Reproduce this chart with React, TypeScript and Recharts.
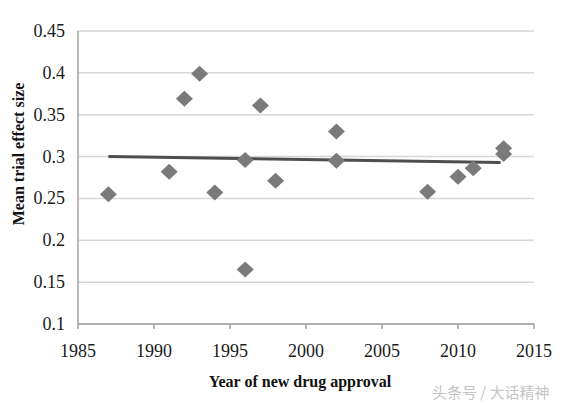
import { ScatterChart, Scatter, XAxis, YAxis, CartesianGrid } from 'recharts';

const years = [1987, 1991, 1992, 1993, 1994, 1996, 1996, 1997, 1998, 2002, 2002, 2008, 2010, 2011, 2013, 2013];
const effectSizes = [0.255, 0.282, 0.369, 0.399, 0.257, 0.296, 0.165, 0.361, 0.271, 0.33, 0.295, 0.258, 0.276, 0.286, 0.31, 0.303];

const trendYears = [1987, 2012.8];
const trendValues = [0.3, 0.293];

const xTicks = [1985, 1990, 1995, 2000, 2005, 2010, 2015];
const yTicks = [0.1, 0.15, 0.2, 0.25, 0.3, 0.35, 0.4, 0.45];

const points = years.map((year, i) => ({ year, value: effectSizes[i] }));
const trend = trendYears.map((year, i) => ({ year, value: trendValues[i] }));

const serif = '"Liberation Serif", "Times New Roman", serif';

const Diamond = (props: any) => {
    const { cx, cy } = props;
    const w = 8.5;
    const h = 8;
    return (
        <polygon
            points={`${cx},${cy - h} ${cx + w},${cy} ${cx},${cy + h} ${cx - w},${cy}`}
            fill="#7a7a7a"
        />
    );
};

const XTick = (props: any) => {
    const { x, y, payload } = props;
    return (
        <text x={x} y={y + 20} textAnchor="middle" fontFamily={serif} fontSize={18} fill="#1a1a1a">
            {payload.value}
        </text>
    );
};

const YTick = (props: any) => {
    const { x, y, payload } = props;
    return (
        <text x={x} y={y + 6} textAnchor="end" fontFamily={serif} fontSize={18} fill="#1a1a1a">
            {payload.value}
        </text>
    );
};

export default function App() {
    return (
        <div style={{ position: 'absolute', left: 0, top: 0, width: 563, height: 405, background: '#fff' }}>
            <ScatterChart width={563} height={405} margin={{ top: 31, right: 29, bottom: 31, left: 0 }}>
                <CartesianGrid vertical={false} stroke="#d6d6d6" strokeWidth={1.5} />
                <XAxis
                    type="number"
                    dataKey="year"
                    domain={[1985, 2015]}
                    ticks={xTicks}
                    height={50}
                    stroke="#a0a0a0"
                    strokeWidth={1.5}
                    tickSize={5}
                    tickMargin={8}
                    tick={XTick}
                />
                <YAxis
                    type="number"
                    dataKey="value"
                    domain={[0.1, 0.45]}
                    ticks={yTicks}
                    width={78}
                    stroke="#a0a0a0"
                    strokeWidth={1.5}
                    tickLine={false}
                    tickSize={0}
                    tickMargin={13}
                    tick={YTick}
                />
                <Scatter data={trend} line={{ stroke: '#4e4e4e', strokeWidth: 3 }} shape={() => null} isAnimationActive={false} />
                <Scatter data={points} shape={Diamond} isAnimationActive={false} />
                <text
                    x={300}
                    y={387}
                    textAnchor="middle"
                    fontFamily={serif}
                    fontWeight="bold"
                    fontSize={16}
                    fill="#111"
                >
                    Year of new drug approval
                </text>
                <text
                    transform="translate(24, 154) rotate(-90)"
                    textAnchor="middle"
                    fontFamily={serif}
                    fontWeight="bold"
                    fontSize={16}
                    fill="#111"
                >
                    Mean trial effect size
                </text>
                <text
                    x={432}
                    y={398}
                    fontFamily='"Noto Sans CJK SC", sans-serif'
                    fontSize={15}
                    fill="#c4c4c4"
                >
                    头条号 / 大话精神
                </text>
            </ScatterChart>
        </div>
    );
}
